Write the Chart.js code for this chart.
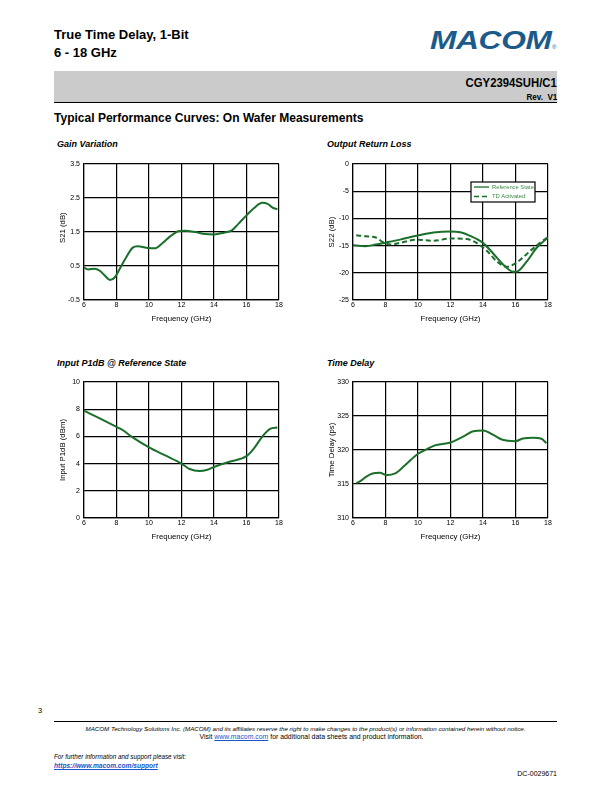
<!DOCTYPE html>
<html>
<head>
<meta charset="utf-8">
<script src="https://cdn.jsdelivr.net/npm/chart.js@4.4.1/dist/chart.umd.min.js"></script>
<style>
  body { margin: 0; background: #fff; width: 612px; height: 792px; position: relative; overflow: hidden;
         font-family: "Liberation Sans", Arial, sans-serif; color: #000; }
  .abs { position: absolute; line-height: 1; white-space: nowrap; }
  .hb { font-weight: bold; }
  .ctitle { font-size: 9px; font-weight: bold; font-style: italic; }
  canvas { position: absolute; }
  a { color: #1a56c8; }
</style>
</head>
<body>
<div class="abs hb" style="left:54px; top:28px; font-size:13px;">True Time Delay, 1-Bit</div>
<div class="abs hb" style="left:54px; top:46px; font-size:13px;">6 - 18 GHz</div>
<div class="abs" style="left:430px; top:27px; font-size:26px; font-weight:bold; font-style:italic; color:#1b5b8c; letter-spacing:-0.3px; transform:scaleX(1.22); transform-origin:left top;">MACOM</div>
<div class="abs" style="left:552px; top:44px; font-size:6px; color:#1b5b8c;">&reg;</div>

<div style="position:absolute; left:54px; top:71px; width:503px; height:31px; background:#cbcbcb; border-bottom:1.5px solid #000;"></div>
<div class="abs hb" style="right:55px; top:76px; font-size:13px; transform:scaleX(0.87); transform-origin:right top;">CGY2394SUH/C1</div>
<div class="abs hb" style="right:55px; top:93px; font-size:9px; transform:scaleX(0.9); transform-origin:right top;">Rev.&nbsp; V1</div>

<div class="abs hb" style="left:54px; top:111px; font-size:13px; transform:scaleX(0.925); transform-origin:left top;">Typical Performance Curves: On Wafer Measurements</div>

<div class="abs ctitle" style="left:57px; top:140px;">Gain Variation</div>
<div class="abs ctitle" style="left:327px; top:140px;">Output Return Loss</div>
<div class="abs ctitle" style="left:57px; top:359px;">Input P1dB @ Reference State</div>
<div class="abs ctitle" style="left:327px; top:359px;">Time Delay</div>

<canvas id="gain" width="232" height="175" style="left:54px; top:155px;"></canvas>
<canvas id="orl" width="232" height="175" style="left:323px; top:155px;"></canvas>
<canvas id="p1db" width="232" height="175" style="left:54px; top:373px;"></canvas>
<canvas id="delay" width="232" height="175" style="left:323px; top:373px;"></canvas>

<div class="abs" style="left:38px; top:707px; font-size:7.5px;">3</div>
<div style="position:absolute; left:54px; top:721px; width:503px; height:0; border-top:1.3px solid #000;"></div>
<div class="abs" style="left:54px; width:503px; top:726px; font-size:6.2px; font-style:italic; text-align:center;">MACOM Technology Solutions Inc. (MACOM) and its affiliates reserve the right to make changes to the product(s) or information contained herein without notice.</div>
<div class="abs" style="left:60px; width:503px; top:734px; font-size:6.9px; text-align:center;">Visit <a href="#">www.macom.com</a> for additional data sheets and product information.</div>
<div class="abs" style="left:54px; top:754px; font-size:6.3px; font-style:italic;">For further information and support please visit:</div>
<div class="abs" style="left:54px; top:763px; font-size:6.6px; font-style:italic; font-weight:bold;"><a href="#">https://www.macom.com/support</a></div>
<div class="abs" style="right:55px; top:770px; font-size:7px;">DC-0029671</div>

<script>
// Gain variation (S21, dB)
const gainFreq = [6.0, 6.25, 6.66, 6.97, 7.28, 7.6, 7.9, 8.2, 8.6, 9.0, 9.3, 9.95, 10.35, 10.8, 11.3, 11.8, 12.2, 12.85, 13.45, 14.0, 14.6, 15.1, 15.5, 16.0, 16.45, 16.97, 17.3, 17.6, 17.9];
const gainDb   = [0.45, 0.4, 0.42, 0.36, 0.22, 0.09, 0.17, 0.42, 0.76, 1.04, 1.08, 1.03, 1.02, 1.16, 1.37, 1.52, 1.54, 1.5, 1.44, 1.43, 1.48, 1.55, 1.74, 1.99, 2.2, 2.36, 2.33, 2.22, 2.17];

// Output return loss (S22, dB)
const refFreq = [6.0, 6.2, 6.8, 7.4, 8.0, 8.9, 9.9, 10.95, 12.0, 12.6, 13.2, 14.0, 14.6, 15.25, 15.85, 16.05, 16.7, 17.3, 18.0];
const refDb   = [-14.9, -15.0, -15.1, -14.8, -14.45, -13.9, -13.2, -12.6, -12.4, -12.55, -13.2, -14.5, -16.35, -18.5, -19.8, -19.8, -17.9, -15.4, -13.5];
const tdFreq  = [6.2, 6.8, 7.4, 7.8, 8.3, 8.9, 9.9, 10.95, 12.0, 13.0, 13.6, 14.25, 14.85, 15.45, 15.8, 16.3, 16.9, 17.55, 18.0];
const tdDb    = [-13.1, -13.3, -13.5, -14.3, -14.8, -14.5, -13.9, -14.1, -13.7, -13.8, -14.5, -16.0, -17.9, -18.9, -18.6, -17.6, -16.0, -14.4, -13.4];

// Input P1dB (dBm)
const p1Freq = [6.0, 7.0, 8.0, 8.4, 8.9, 10.0, 11.0, 12.0, 12.5, 13.1, 13.6, 14.0, 15.0, 16.0, 16.45, 16.95, 17.45, 17.9];
const p1Dbm  = [7.9, 7.3, 6.7, 6.45, 6.0, 5.2, 4.6, 4.0, 3.6, 3.45, 3.55, 3.75, 4.15, 4.55, 5.1, 5.95, 6.55, 6.65];

// Time delay (ps)
const delayFreq = [6.2, 6.5, 6.8, 7.2, 7.65, 8.05, 8.6, 9.2, 10.0, 10.5, 11.0, 12.0, 12.8, 13.4, 14.0, 14.6, 15.2, 16.0, 16.45, 17.1, 17.6, 17.9];
const delayPs   = [315.1, 315.5, 316.05, 316.55, 316.65, 316.3, 316.55, 317.75, 319.45, 320.05, 320.65, 321.1, 322.0, 322.75, 322.85, 322.25, 321.5, 321.3, 321.7, 321.8, 321.65, 321.0];

const freqTicks = { min: 6, max: 18, step: 2 };
const green = "#1a6f2b";
const font = "'Liberation Sans', Arial, sans-serif";

const toPoints = (xs, ys) => xs.map((x, i) => ({ x: x, y: ys[i] }));

// Small boxed legend drawn inside the plot area
const legendBox = {
  id: "legendBox",
  afterDraw(chart, args, opts) {
    if (!opts.show) return;
    const { ctx, chartArea } = chart;
    const x = chartArea.left + opts.dx;
    const y = chartArea.top + opts.dy;
    ctx.save();
    ctx.fillStyle = "#fff";
    ctx.fillRect(x, y, 64, 20);
    ctx.strokeStyle = "#000";
    ctx.lineWidth = 1.2;
    ctx.strokeRect(x, y, 64, 20);
    chart.data.datasets.forEach((ds, i) => {
      const ly = y + 5 + i * 9.5;
      ctx.strokeStyle = ds.borderColor;
      ctx.lineWidth = 1.3;
      ctx.setLineDash(ds.borderDash || []);
      ctx.beginPath();
      ctx.moveTo(x + 3, ly);
      ctx.lineTo(x + 18, ly);
      ctx.stroke();
      ctx.setLineDash([]);
      ctx.fillStyle = "#3a8a48";
      ctx.font = "5.8px " + font;
      ctx.textBaseline = "middle";
      ctx.fillText(ds.label, x + 21, ly);
    });
    ctx.restore();
  },
};

function makeChart(id, datasets, yMin, yMax, yStep, yTitle, legend) {
  return new Chart(document.getElementById(id), {
    type: "line",
    data: { datasets: datasets },
    plugins: [legendBox],
    options: {
      responsive: false,
      animation: false,
      devicePixelRatio: 1,
      layout: { padding: { top: 9, right: 7, left: 0, bottom: 0 } },
      elements: {
        point: { radius: 0 },
        line: { tension: 0.4, cubicInterpolationMode: "monotone", borderWidth: 2 },
      },
      plugins: {
        legend: { display: false },
        tooltip: { enabled: false },
        legendBox: legend || { show: false },
      },
      scales: {
        x: {
          type: "linear",
          min: freqTicks.min,
          max: freqTicks.max,
          ticks: { stepSize: freqTicks.step, color: "#000", font: { size: 7, family: font }, padding: 1, maxRotation: 0 },
          grid: { color: "#000", lineWidth: 1.2, drawTicks: false },
          border: { color: "#000", width: 1.2 },
          title: { display: true, text: "Frequency (GHz)", color: "#000", font: { size: 7.8, family: font }, padding: { top: 0, bottom: 6 } },
          afterFit: (s) => { s.height = 30; },
        },
        y: {
          min: yMin,
          max: yMax,
          ticks: { stepSize: yStep, color: "#000", font: { size: 7, family: font }, padding: 4 },
          grid: { color: "#000", lineWidth: 1.2, drawTicks: false },
          border: { color: "#000", width: 1.2 },
          title: { display: true, text: yTitle, color: "#000", font: { size: 7.8, family: font }, padding: { top: 4, bottom: 0 } },
          afterFit: (s) => { s.width = 30; },
        },
      },
    },
  });
}

makeChart("gain", [
  { label: "Gain", data: toPoints(gainFreq, gainDb), borderColor: green },
], -0.5, 3.5, 1, "    S21 (dB)");

makeChart("orl", [
  { label: "Reference State", data: toPoints(refFreq, refDb), borderColor: green },
  { label: "TD Activated", data: toPoints(tdFreq, tdDb), borderColor: green, borderDash: [5, 3] },
], -25, 0, 5, "S22 (dB)", { show: true, dx: 118, dy: 18 });

makeChart("p1db", [
  { label: "Input P1dB", data: toPoints(p1Freq, p1Dbm), borderColor: green },
], 0, 10, 2, "Input P1dB (dBm)");

makeChart("delay", [
  { label: "Time Delay", data: toPoints(delayFreq, delayPs), borderColor: green },
], 310, 330, 5, "Time Delay (ps)");
</script>
</body>
</html>
